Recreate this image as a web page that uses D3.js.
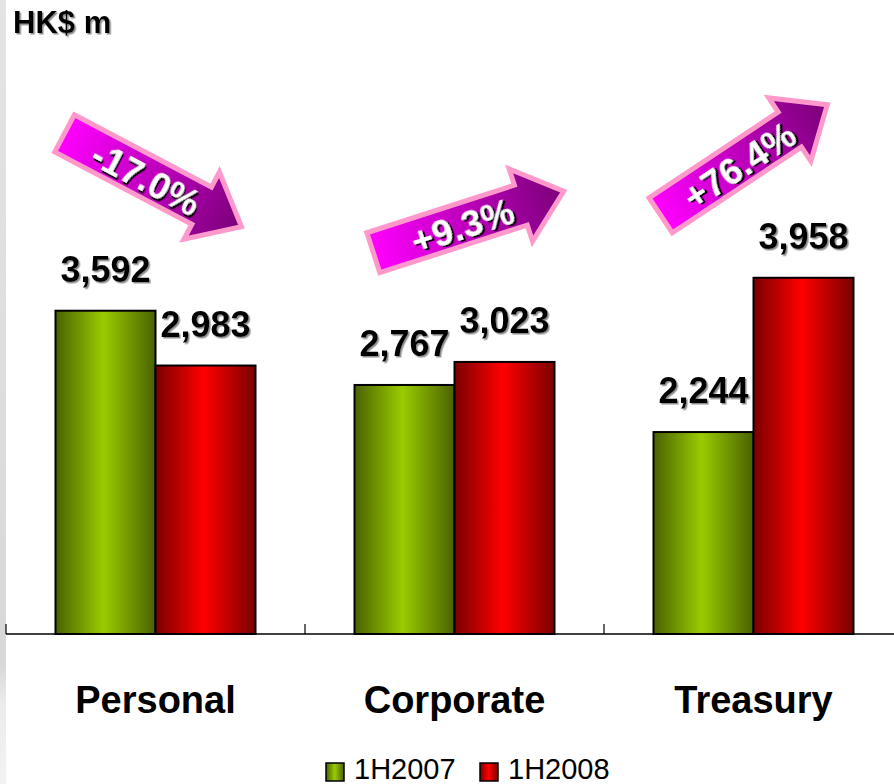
<!DOCTYPE html>
<html>
<head>
<meta charset="utf-8">
<script src="https://cdn.jsdelivr.net/npm/d3@7/dist/d3.min.js"></script>
<style>
  html, body { margin: 0; padding: 0; background: #ffffff; }
  svg { display: block; }
  text { font-family: Arial, "Liberation Sans", Helvetica, sans-serif; }
</style>
</head>
<body>
<div id="chart"></div>
<script>
// Operating income by business segment, HK$ millions
const categories = ["Personal", "Corporate", "Treasury"];
const seriesNames = ["1H2007", "1H2008"];
const values2007 = [3592, 2767, 2244];
const values2008 = [2983, 3023, 3958];
const changeLabels = ["-17.0%", "+9.3%", "+76.4%"];
const unitLabel = "HK$ m";

const W = 894, H = 784;
const baseY = 634;

const svg = d3.select("#chart").append("svg")
  .attr("width", W).attr("height", H);

const defs = svg.append("defs");

// Cylinder-like horizontal shading for the bars
function barGradient(id, dark, bright) {
  const g = defs.append("linearGradient").attr("id", id)
    .attr("x1", "0%").attr("x2", "100%").attr("y1", "0%").attr("y2", "0%");
  g.append("stop").attr("offset", "0%").attr("stop-color", dark);
  g.append("stop").attr("offset", "48%").attr("stop-color", bright);
  g.append("stop").attr("offset", "100%").attr("stop-color", dark);
}
barGradient("g2007", "#4a6100", "#99cc00");
barGradient("g2008", "#7a0000", "#ff0000");

// Arrow fill: bright magenta at the tail, deep purple at the head
const ag = defs.append("linearGradient").attr("id", "arrowFill")
  .attr("gradientUnits", "userSpaceOnUse")
  .attr("x1", 0).attr("y1", 0).attr("x2", 200).attr("y2", 0);
ag.append("stop").attr("offset", "0%").attr("stop-color", "#ff00ff");
ag.append("stop").attr("offset", "100%").attr("stop-color", "#7a0078");

const sh = defs.append("filter").attr("id", "shadow")
  .attr("x", "-10%").attr("y", "-10%").attr("width", "130%").attr("height", "140%");
sh.append("feDropShadow").attr("dx", 1.5).attr("dy", 1.5)
  .attr("stdDeviation", 0.6).attr("flood-color", "#808080").attr("flood-opacity", 0.9);

const shDark = defs.append("filter").attr("id", "shadowDark")
  .attr("x", "-10%").attr("y", "-10%").attr("width", "130%").attr("height", "140%");
shDark.append("feDropShadow").attr("dx", 2).attr("dy", 2)
  .attr("stdDeviation", 0.5).attr("flood-color", "#000000").attr("flood-opacity", 0.95);

// Left page-edge strip
const edge = defs.append("linearGradient").attr("id", "edge")
  .attr("x1", 0).attr("x2", 0).attr("y1", 0).attr("y2", 1);
edge.append("stop").attr("offset", "0%").attr("stop-color", "#e4e4e4");
edge.append("stop").attr("offset", "85%").attr("stop-color", "#d8d8d8");
edge.append("stop").attr("offset", "90%").attr("stop-color", "#ececec");
edge.append("stop").attr("offset", "100%").attr("stop-color", "#f2f2f2");
svg.append("rect").attr("x", 0).attr("y", 0).attr("width", 6).attr("height", H)
  .attr("fill", "url(#edge)");

// Scales
const x = d3.scaleBand().domain(categories).range([6, 903]).paddingInner(0).paddingOuter(0);
const xs = d3.scaleBand().domain(seriesNames).range([0, x.bandwidth()])
  .paddingInner(0).paddingOuter(0.495);
const y = d3.scaleLinear().domain([0, 7000]).range([baseY, 4]);

const rows = categories.map((c, i) => ({
  cat: c,
  vals: [
    { s: seriesNames[0], v: values2007[i], fill: "url(#g2007)" },
    { s: seriesNames[1], v: values2008[i], fill: "url(#g2008)" }
  ]
}));

// Bars
const groups = svg.append("g").selectAll("g").data(rows).join("g")
  .attr("transform", d => `translate(${x(d.cat)},0)`);

groups.selectAll("rect").data(d => d.vals).join("rect")
  .attr("x", d => xs(d.s))
  .attr("y", d => y(d.v))
  .attr("width", xs.bandwidth())
  .attr("height", d => baseY - y(d.v))
  .attr("fill", d => d.fill)
  .attr("stroke", "#000").attr("stroke-width", 2);

// Value labels
groups.selectAll("text.val").data(d => d.vals).join("text")
  .attr("class", "val")
  .attr("x", d => xs(d.s) + xs.bandwidth() / 2)
  .attr("y", d => y(d.v) - 29)
  .attr("text-anchor", "middle")
  .attr("font-size", 36).attr("font-weight", "bold")
  .attr("fill", "#000")
  .attr("filter", "url(#shadow)")
  .text(d => d3.format(",")(d.v));

// Category axis
const axis = svg.append("g").attr("transform", `translate(0,${baseY})`);
axis.append("line").attr("x1", 6).attr("x2", W).attr("y1", 0).attr("y2", 0)
  .attr("stroke", "#000").attr("stroke-width", 1.5);
const boundaries = categories.map(c => x(c)).concat([x.range()[1]]);
axis.selectAll("line.tick").data(boundaries).join("line")
  .attr("class", "tick")
  .attr("x1", d => d).attr("x2", d => d).attr("y1", -10).attr("y2", 0)
  .attr("stroke", "#000").attr("stroke-width", 1.2);
axis.selectAll("text").data(categories).join("text")
  .attr("x", d => x(d) + x.bandwidth() / 2)
  .attr("y", 79)
  .attr("text-anchor", "middle")
  .attr("font-size", 38).attr("font-weight", "bold")
  .attr("fill", "#000")
  .text(d => d);

// Unit label
svg.append("text").attr("x", 13).attr("y", 33)
  .attr("font-size", 31).attr("font-weight", "bold")
  .attr("filter", "url(#shadow)")
  .text(unitLabel);

// Change arrows
const arrowLen = 200, shaftHalf = 21, headHalf = 38, headLen = 45;
const arrowPts = [
  [0, -shaftHalf], [arrowLen - headLen, -shaftHalf], [arrowLen - headLen, -headHalf],
  [arrowLen, 0], [arrowLen - headLen, headHalf], [arrowLen - headLen, shaftHalf], [0, shaftHalf]
];
const arrowSpecs = [
  { dx: -2.5, cy: 180, angle: 27.8 },
  { dx: 14, cy: 222, angle: -17.9 },
  { dx: -9.5, cy: 160, angle: -33.6 }
];
const arrows = svg.append("g").selectAll("g").data(categories).join("g")
  .attr("transform", (d, i) => {
    const s = arrowSpecs[i];
    const cx = x(d) + x.bandwidth() / 2 + s.dx;
    return `translate(${cx},${s.cy}) rotate(${s.angle}) translate(${-arrowLen / 2},0)`;
  });
arrows.append("path")
  .attr("d", d3.line()(arrowPts) + "Z")
  .attr("fill", "url(#arrowFill)")
  .attr("stroke", "#ff99cc").attr("stroke-width", 5)
  .attr("stroke-linejoin", "miter");
arrows.append("text")
  .attr("x", 93).attr("y", 2)
  .attr("text-anchor", "middle").attr("dominant-baseline", "central")
  .attr("font-size", 37).attr("font-weight", "bold")
  .attr("fill", "#fff")
  .attr("filter", "url(#shadowDark)")
  .text((d, i) => changeLabels[i]);

// Legend
const legend = svg.append("g");
const legendItems = [
  { name: seriesNames[0], fill: "url(#g2007)", x: 326 },
  { name: seriesNames[1], fill: "url(#g2008)", x: 480 }
];
const li = legend.selectAll("g").data(legendItems).join("g")
  .attr("transform", d => `translate(${d.x},763)`);
li.append("rect").attr("x", 0).attr("y", 0).attr("width", 18).attr("height", 18)
  .attr("fill", d => d.fill).attr("stroke", "#000").attr("stroke-width", 1.5);
li.append("text").attr("x", 28).attr("y", 16)
  .attr("font-size", 29).attr("fill", "#000")
  .text(d => d.name);
</script>
</body>
</html>
